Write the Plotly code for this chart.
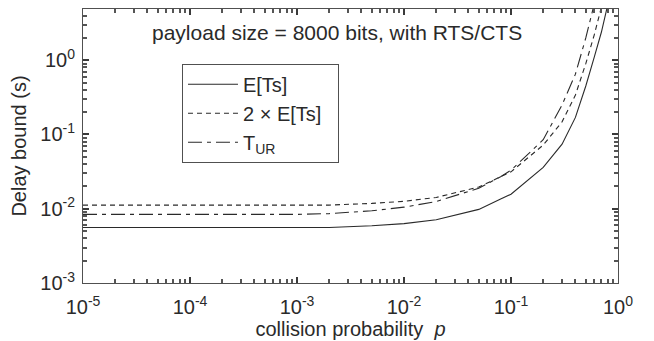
import plotly.graph_objects as go

# collision probability p
p = [1e-5, 1e-4, 1e-3, 2e-3, 5e-3, 1e-2, 2e-2, 5e-2, 8e-2, 1e-1, 2e-1, 3e-1, 4e-1, 5e-1, 6e-1, 7e-1, 8e-1]
e_ts = [0.0056, 0.0056, 0.0056, 0.0056, 0.0059, 0.0063, 0.0071, 0.0098, 0.0135, 0.0157, 0.036, 0.074, 0.17, 0.45, 1.1, 2.4, 5.5]
two_e_ts = [0.0112, 0.0112, 0.0112, 0.0112, 0.0118, 0.0126, 0.0142, 0.0196, 0.027, 0.0314, 0.072, 0.148, 0.34, 0.9, 2.2, 4.8, 11.0]
t_ur = [0.0084, 0.0084, 0.0084, 0.0086, 0.0094, 0.0105, 0.0125, 0.0189, 0.027, 0.033, 0.085, 0.25, 0.65, 2.0, 6.0, 15.0, 30.0]

x_tickvals = [1e-5, 1e-4, 1e-3, 1e-2, 1e-1, 1e0]
x_ticktext = ["10<sup>-5</sup>", "10<sup>-4</sup>", "10<sup>-3</sup>", "10<sup>-2</sup>", "10<sup>-1</sup>", "10<sup>0</sup>"]
y_tickvals = [1e-3, 1e-2, 1e-1, 1e0]
y_ticktext = ["10<sup>-3</sup>", "10<sup>-2</sup>", "10<sup>-1</sup>", "10<sup>0</sup>"]

FONT = "Liberation Sans, Arial, sans-serif"
INK = "#2a2a2a"
AX = "#505050"

fig = go.Figure()
fig.add_trace(go.Scatter(x=p, y=e_ts, mode="lines", name="E[Ts]",
                         line=dict(color=INK, width=1.1, dash="solid")))
fig.add_trace(go.Scatter(x=p, y=two_e_ts, mode="lines", name="2 \u00d7 E[Ts]\u00a0\u00a0",
                         line=dict(color=INK, width=1.1, dash="5px,4px")))
fig.add_trace(go.Scatter(x=p, y=t_ur, mode="lines", name="T<sub>UR</sub>",
                         line=dict(color=INK, width=1.1, dash="14px,5px,4px,5px")))

X_RANGE = [-5, 0]
Y_RANGE = [-3, 0.69]

axis_common = dict(
    type="log", showgrid=False, zeroline=False,
    showline=True, linecolor=AX, linewidth=1, mirror="allticks",
    ticks="inside", ticklen=6, tickwidth=2, tickcolor="#3a3a3a",
    minor=dict(dtick="D1", ticks="inside", ticklen=4, tickwidth=1.6, tickcolor="#555555", showgrid=False),
    tickfont=dict(family=FONT, size=20, color=INK),
)

fig.update_layout(
    xaxis=dict(**axis_common, range=X_RANGE, tickvals=x_tickvals, ticktext=x_ticktext,
               ticklabelstandoff=6,
               title=dict(text="collision probability  <i>p</i>", font=dict(family=FONT, size=20, color=INK), standoff=0)),
    yaxis=dict(**axis_common, range=Y_RANGE, tickvals=y_tickvals, ticktext=y_ticktext,
               ticklabelstandoff=3,
               title=dict(text="Delay bound (s)", font=dict(family=FONT, size=20, color=INK), standoff=9)),
)

fig.add_annotation(text="payload size = 8000 bits, with RTS/CTS", xref="paper", yref="paper",
                   x=0.475, y=0.913, showarrow=False, xanchor="center", yanchor="middle",
                   font=dict(family=FONT, size=21, color=INK))

fig.update_layout(
    width=654, height=341,
    margin=dict(l=75, r=44, t=1, b=66),
    paper_bgcolor="white", plot_bgcolor="white",
    showlegend=True,
    legend=dict(x=0.185, y=0.80, xanchor="left", yanchor="top",
                bordercolor=AX, borderwidth=1, bgcolor="white",
                font=dict(family=FONT, size=20, color=INK),
                itemwidth=50, tracegroupgap=0),
)

fig.write_html("out.html")
